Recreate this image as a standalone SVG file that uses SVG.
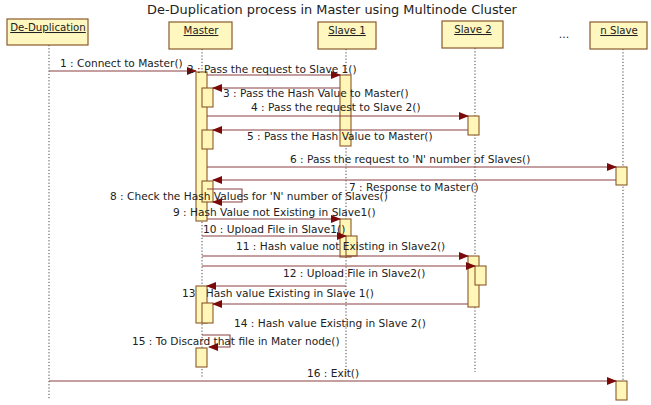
<svg xmlns="http://www.w3.org/2000/svg" width="651" height="405" viewBox="0 0 651 405">
<defs>
<marker id="ah" markerWidth="10" markerHeight="8" refX="9" refY="4" orient="auto" markerUnits="userSpaceOnUse">
<path d="M0,0 L10,4 L0,8 Z" fill="#7a0a0a"/>
</marker>
<style>
.hdr{fill:#fff7c0;stroke:#8a5a2a;stroke-width:1.2}
.bar{fill:#fff6b8;stroke:#8a5a2a;stroke-width:1.1}
.life{stroke:#444;stroke-width:1;stroke-dasharray:1.2,2;fill:none}
.msg{stroke:#8c4040;stroke-width:1.1;fill:none;marker-end:url(#ah)}
.t{font-family:"DejaVu Sans",Verdana,sans-serif;font-size:10.6px;fill:#222}
.h{font-family:"DejaVu Sans",Verdana,sans-serif;font-size:10.2px;fill:#222;text-decoration:underline;text-anchor:middle}
.title{font-family:"DejaVu Sans",Verdana,sans-serif;font-size:12.9px;fill:#222;text-anchor:middle}
</style>
</defs>
<rect width="651" height="405" fill="#ffffff"/>
<text class="title" x="332" y="14">De-Duplication process in Master using Multinode Cluster</text>

<g id="dedup">
<line class="life" x1="49" y1="45" x2="49" y2="400"/>
<rect class="hdr" x="7" y="19" width="81" height="26"/>
<text class="h" x="48" y="31">De-Duplication</text>
</g>
<g id="master">
<line class="life" x1="202" y1="49" x2="202" y2="377"/>
<rect class="hdr" x="169" y="22" width="63" height="27"/>
<text class="h" x="201" y="34">Master</text>
</g>
<g id="slave1">
<line class="life" x1="346" y1="49" x2="346" y2="378"/>
<rect class="hdr" x="318" y="22" width="58" height="27"/>
<text class="h" x="347" y="34">Slave 1</text>
</g>
<g id="slave2">
<line class="life" x1="475" y1="48" x2="475" y2="372"/>
<rect class="hdr" x="442" y="21" width="61" height="27"/>
<text class="h" x="473" y="33">Slave 2</text>
</g>
<g id="dots">
<text class="t" x="564" y="38" text-anchor="middle" style="font-size:11px">...</text>
</g>
<g id="nslave">
<line class="life" x1="623" y1="49" x2="623" y2="381"/>
<rect class="hdr" x="590" y="22" width="57" height="27"/>
<text class="h" x="619" y="34">n Slave</text>
</g>

<text class="t" x="182" y="297">13 : Hash value Existing in Slave 1()</text>

<g id="activations">
<rect class="bar" x="196" y="72" width="11" height="149"/>
<rect class="bar" x="202" y="88" width="11" height="19"/>
<rect class="bar" x="202" y="130" width="11" height="19"/>
<rect class="bar" x="202" y="181" width="11" height="21"/>
<rect class="bar" x="196" y="286" width="11" height="37"/>
<rect class="bar" x="202" y="303" width="11" height="20"/>
<rect class="bar" x="196" y="348" width="11" height="19"/>
<rect class="bar" x="340" y="75" width="11" height="71"/>
<rect class="bar" x="340" y="219" width="11" height="38"/>
<rect class="bar" x="346" y="236" width="11" height="20"/>
<rect class="bar" x="468" y="116" width="11" height="19"/>
<rect class="bar" x="468" y="256" width="11" height="51"/>
<rect class="bar" x="475" y="266" width="11" height="19"/>
<rect class="bar" x="616" y="167" width="11" height="18"/>
<rect class="bar" x="616" y="381" width="11" height="19"/>
</g>

<g id="connectors">
<line class="msg" x1="49" y1="71" x2="196" y2="71"/>
<line class="msg" x1="207" y1="75" x2="340" y2="75"/>
<line class="msg" x1="340" y1="88" x2="213" y2="88"/>
<line class="msg" x1="207" y1="116" x2="468" y2="116"/>
<line class="msg" x1="468" y1="130" x2="213" y2="130"/>
<line class="msg" x1="207" y1="167" x2="616" y2="167"/>
<line class="msg" x1="616" y1="180" x2="213" y2="180"/>
<path class="msg" d="M207,189 H242 V202 H213"/>
<line class="msg" x1="207" y1="219" x2="340" y2="219"/>
<line class="msg" x1="202" y1="236" x2="346" y2="236"/>
<line class="msg" x1="202" y1="256" x2="468" y2="256"/>
<line class="msg" x1="202" y1="266" x2="475" y2="266"/>
<line class="msg" x1="346" y1="286" x2="207" y2="286"/>
<line class="msg" x1="468" y1="304" x2="213" y2="304"/>
<path class="msg" d="M202,335 H230 V347 H209"/>
<line class="msg" x1="49" y1="381" x2="616" y2="381"/>
</g>

<g id="labels">
<text class="t" x="60" y="67">1 : Connect to Master()</text>
<text class="t" x="187" y="73">2 : Pass the request to Slave 1()</text>
<text class="t" x="223" y="97">3 : Pass the Hash Value to Master()</text>
<text class="t" x="251" y="111">4 : Pass the request to Slave 2()</text>
<text class="t" x="247" y="140">5 : Pass the Hash Value to Master()</text>
<text class="t" x="290" y="163">6 : Pass the request to 'N' number of Slaves()</text>
<text class="t" x="349" y="191">7 : Response to Master()</text>
<text class="t" x="110" y="200">8 : Check the Hash Values for 'N' number of Slaves()</text>
<text class="t" x="173" y="216">9 : Hash Value not Existing in Slave1()</text>
<text class="t" x="203" y="233">10 : Upload File in Slave1()</text>
<text class="t" x="236" y="250">11 : Hash value not Existing in Slave2()</text>
<text class="t" x="283" y="277">12 : Upload File in Slave2()</text>
<text class="t" x="234" y="327">14 : Hash value Existing in Slave 2()</text>
<text class="t" x="132" y="345">15 : To Discard that file in Mater node()</text>
<text class="t" x="307" y="377">16 : Exit()</text>
</g>
</svg>
